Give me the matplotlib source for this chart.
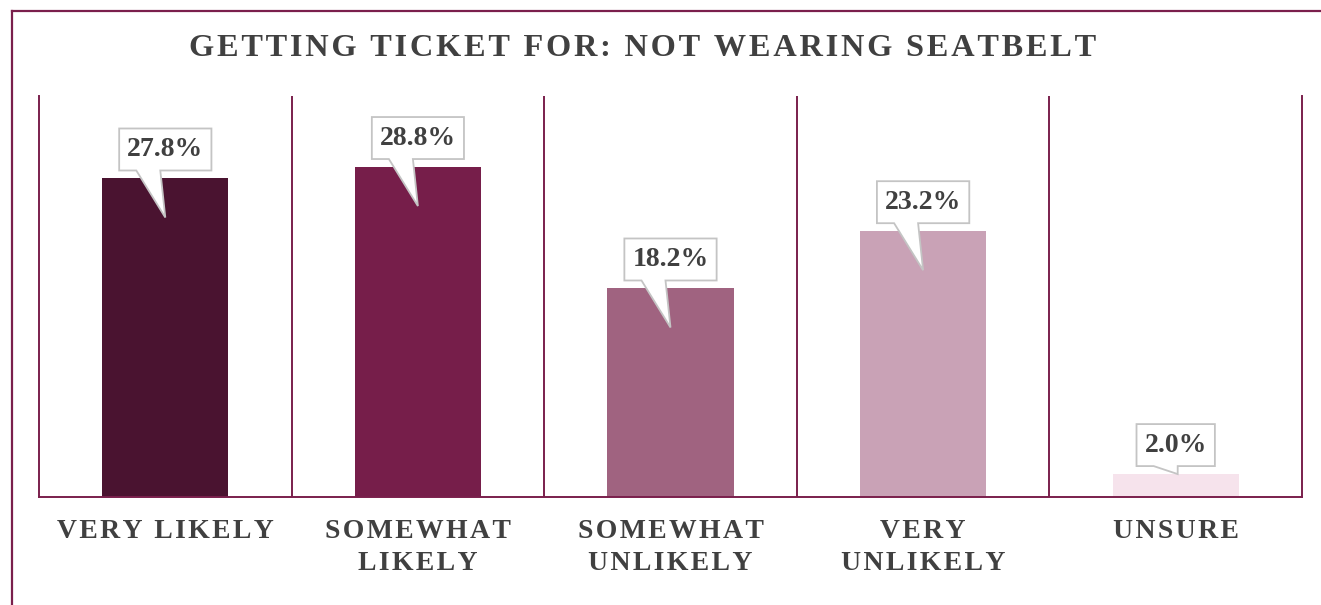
import matplotlib
matplotlib.use("Agg")
import matplotlib.pyplot as plt
import matplotlib.transforms as mtransforms
from matplotlib.patches import Polygon
from matplotlib.lines import Line2D

# data
categories = ["VERY LIKELY", "SOMEWHAT\nLIKELY", "SOMEWHAT\nUNLIKELY", "VERY\nUNLIKELY", "UNSURE"]
values = [27.8, 28.8, 18.2, 23.2, 2.0]
bar_colors = ["#4a1330", "#761e4a", "#a06380", "#c9a2b6", "#f6e3ec"]
title = "GETTING TICKET FOR: NOT WEARING SEATBELT"

W, H = 1321, 605
frame_col = "#7a1f4c"
text_col = "#404040"
serif = ["Liberation Serif", "DejaVu Serif"]


def spaced(s, gap="\u200a"):
    # fake letter spacing, line by line
    return "\n".join(gap.join(line) for line in s.split("\n"))


fig = plt.figure(figsize=(W / 100, H / 100), dpi=100)
ax = fig.add_axes([39 / W, (H - 497) / H, (1302 - 39) / W, (497 - 96) / H])

x = list(range(len(values)))
ax.bar(x, values, width=0.5, color=bar_colors, zorder=2)
ax.set_xlim(-0.5, len(values) - 0.5)
ax.set_ylim(0, 35)
ax.set_xticks([])
ax.set_yticks([])
ax.spines["top"].set_visible(False)
for side in ["left", "right", "bottom"]:
    ax.spines[side].set_color(frame_col)
    ax.spines[side].set_linewidth(1.4)
for sep in x[:-1]:
    ax.axvline(sep + 0.5, color=frame_col, lw=1.4, zorder=1)

# category labels under the bars
for i, lab in zip(x, categories):
    ax.annotate(spaced(lab), xy=(i, 0), xytext=(0, -16), textcoords="offset points",
                ha="center", va="top", fontsize=20, fontweight="bold",
                family=serif, color=text_col, linespacing=1.35, annotation_clip=False)

# callout boxes with a pointer into each bar
renderer = fig.canvas.get_renderer()
px_per_unit = ax.transData.transform((0, 1))[1] - ax.transData.transform((0, 0))[1]
for i, v in zip(x, values):
    trans = fig.dpi_scale_trans + mtransforms.ScaledTranslation(i, v, ax.transData)
    yb, bh = 8, 42
    t = ax.text(0, (yb + bh / 2) / 100, f"{v:.1f}%", transform=trans, ha="center", va="center",
                fontsize=20, fontweight="bold", family=serif, color=text_col, zorder=5)
    tw = t.get_window_extent(renderer).width
    w = tw + 16
    d = 39 if v * px_per_unit > 60 else 0
    verts = [(-w / 2, yb), (-w / 2, yb + bh), (w / 2, yb + bh), (w / 2, yb),
             (-5, yb), (0, -d), (-29, yb)]
    if d == 0:
        verts = [(-w / 2, yb), (-w / 2, yb + bh), (w / 2, yb + bh), (w / 2, yb),
                 (2, yb), (2, 0), (-22, yb)]
    verts = [(a / 100, b / 100) for a, b in verts]
    ax.add_patch(Polygon(verts, closed=True, transform=trans, fc="white", ec="#c4c4c4",
                         lw=1.3, zorder=4, clip_on=False))

fig.text(643 / W, 1 - 49 / H, spaced(title), ha="center", va="center", fontsize=23.3,
         fontweight="bold", family=serif, color=text_col)

# outer frame (left and top edges only show)
fig.add_artist(Line2D([11.5 / W, 11.5 / W], [0, 1 - 10.5 / H], color=frame_col, lw=1.6))
fig.add_artist(Line2D([11.5 / W, 1], [1 - 10.5 / H, 1 - 10.5 / H], color=frame_col, lw=1.6))

fig.savefig("out.png", dpi=100)
